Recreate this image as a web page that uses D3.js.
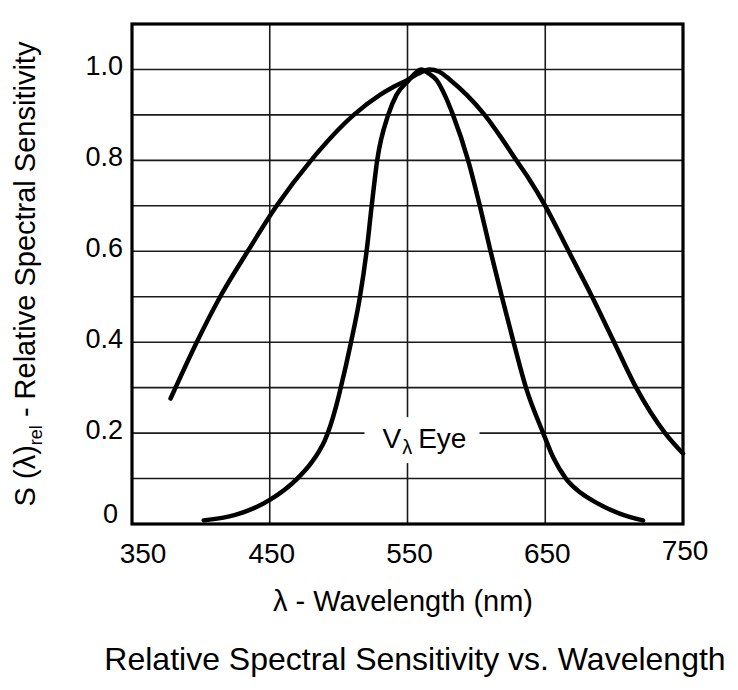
<!DOCTYPE html>
<html>
<head>
<meta charset="utf-8">
<script src="https://cdn.jsdelivr.net/npm/d3@7"></script>
<style>
  html, body { margin: 0; padding: 0; background: #fff; }
  svg { display: block; }
</style>
</head>
<body>
<div id="container"></div>
<script>
// broad curve (sensor) - wavelength in nm / relative sensitivity
const sensorNm = [378, 397, 414, 434, 455, 480, 511, 530, 540, 550, 558, 566, 573, 581, 593, 606, 618, 629, 638, 650, 667, 684, 700, 716, 737, 750];
const sensorRel = [0.276, 0.40, 0.50, 0.60, 0.70, 0.80, 0.90, 0.944, 0.962, 0.977, 0.991, 1.0, 0.995, 0.977, 0.944, 0.90, 0.85, 0.80, 0.76, 0.70, 0.60, 0.50, 0.40, 0.30, 0.20, 0.155];

// narrow curve (V lambda eye)
const eyeNm = [402, 425, 450, 470, 480, 486, 490, 494, 498, 501, 509, 515.5, 520.3, 524, 528, 536, 542, 550, 560, 566, 571, 577, 583, 594, 602.5, 610.3, 618.5, 627, 636, 648.5, 656, 665, 676, 687, 704, 721];
const eyeRel = [0.008, 0.02, 0.053, 0.10, 0.134, 0.161, 0.184, 0.216, 0.257, 0.293, 0.40, 0.50, 0.60, 0.70, 0.80, 0.90, 0.944, 0.973, 1.0, 0.99, 0.977, 0.944, 0.90, 0.80, 0.70, 0.60, 0.50, 0.40, 0.30, 0.20, 0.145, 0.10, 0.068, 0.047, 0.023, 0.008];

const xTicks = [350, 450, 550, 650, 750];
const yTicks = [0, 0.2, 0.4, 0.6, 0.8, 1.0];
const yGrid = [0.1, 0.2, 0.3, 0.4, 0.5, 0.6, 0.7, 0.8, 0.9, 1.0];

const W = 738, H = 690;
const margin = { top: 24, right: 55, bottom: 166, left: 132 };
const width = W - margin.left - margin.right;
const height = H - margin.top - margin.bottom;
const font = 'Liberation Sans, Arial, Helvetica, sans-serif';

const svg = d3.select('#container')
    .append('svg')
    .attr('width', W)
    .attr('height', H)
    .attr('font-family', font);

const g = svg.append('g')
    .attr('transform', `translate(${margin.left}, ${margin.top})`);

const x = d3.scaleLinear().domain([350, 750]).range([0, width]);
const y = d3.scaleLinear().domain([0, 1.1]).range([height, 0]);

// grid
g.append('g')
    .selectAll('line')
    .data(yGrid).enter()
    .append('line')
    .attr('x1', 0)
    .attr('x2', width)
    .attr('y1', d => y(d))
    .attr('y2', d => y(d))
    .attr('stroke', '#1a1a1a')
    .attr('stroke-width', 1.6);

g.append('g')
    .selectAll('line')
    .data(xTicks.slice(1, -1)).enter()
    .append('line')
    .attr('x1', d => x(d))
    .attr('x2', d => x(d))
    .attr('y1', 0)
    .attr('y2', height)
    .attr('stroke', '#1a1a1a')
    .attr('stroke-width', 1.6);

// label "V lambda Eye" with white box over the grid
const lab = g.append('g').attr('transform', `translate(${x(550)}, ${y(0.2)})`);
lab.append('rect')
    .attr('x', -43)
    .attr('y', -16)
    .attr('width', 115)
    .attr('height', 46)
    .attr('fill', '#fff');
const labText = lab.append('text')
    .attr('x', -25)
    .attr('y', 15)
    .attr('font-size', 28)
    .attr('fill', '#000');
labText.append('tspan').text('V');
labText.append('tspan').attr('font-size', 20).attr('dy', 6).attr('dx', 1).text('λ');
labText.append('tspan').attr('dy', -6).attr('dx', 6).text('Eye');

// curves
const line = d3.line()
    .x(d => x(d[0]))
    .y(d => y(d[1]))
    .curve(d3.curveMonotoneX);

const series = [
    d3.zip(sensorNm, sensorRel),
    d3.zip(eyeNm, eyeRel)
];

g.append('g')
    .selectAll('path')
    .data(series).enter()
    .append('path')
    .attr('d', line)
    .attr('fill', 'none')
    .attr('stroke', '#000')
    .attr('stroke-width', 4.5)
    .attr('stroke-linecap', 'round')
    .attr('stroke-linejoin', 'round');

// frame
g.append('rect')
    .attr('x', 0)
    .attr('y', 0)
    .attr('width', width)
    .attr('height', height)
    .attr('fill', 'none')
    .attr('stroke', '#000')
    .attr('stroke-width', 3.2);

// tick labels
g.append('g')
    .selectAll('text')
    .data(xTicks).enter()
    .append('text')
    .attr('x', d => x(d) + (d === 350 ? 11 : 2))
    .attr('y', d => height + (d === 750 ? 36 : 39))
    .attr('text-anchor', 'middle')
    .attr('font-size', 28)
    .text(d => d);

g.append('g')
    .selectAll('text')
    .data(yTicks).enter()
    .append('text')
    .attr('x', d => d === 0 ? -14 : -9)
    .attr('y', d => y(d) + (d === 0 ? -1 : 6))
    .attr('text-anchor', 'end')
    .attr('font-size', 27)
    .text(d => d === 0 ? '0' : d.toFixed(1));

// axis titles
svg.append('text')
    .attr('x', 403)
    .attr('y', 611)
    .attr('text-anchor', 'middle')
    .attr('font-size', 29)
    .text('λ - Wavelength (nm)');

const yt = svg.append('text')
    .attr('transform', `translate(35, 274) rotate(-90)`)
    .attr('text-anchor', 'middle')
    .attr('font-size', 29);
yt.append('tspan').text('S (λ)');
yt.append('tspan').attr('font-size', 18).attr('dy', 7).text('rel');
yt.append('tspan').attr('dy', -7).text(' - Relative Spectral Sensitivity');

svg.append('text')
    .attr('x', 415)
    .attr('y', 670)
    .attr('text-anchor', 'middle')
    .attr('font-size', 32)
    .text('Relative Spectral Sensitivity vs. Wavelength');
</script>
</body>
</html>
